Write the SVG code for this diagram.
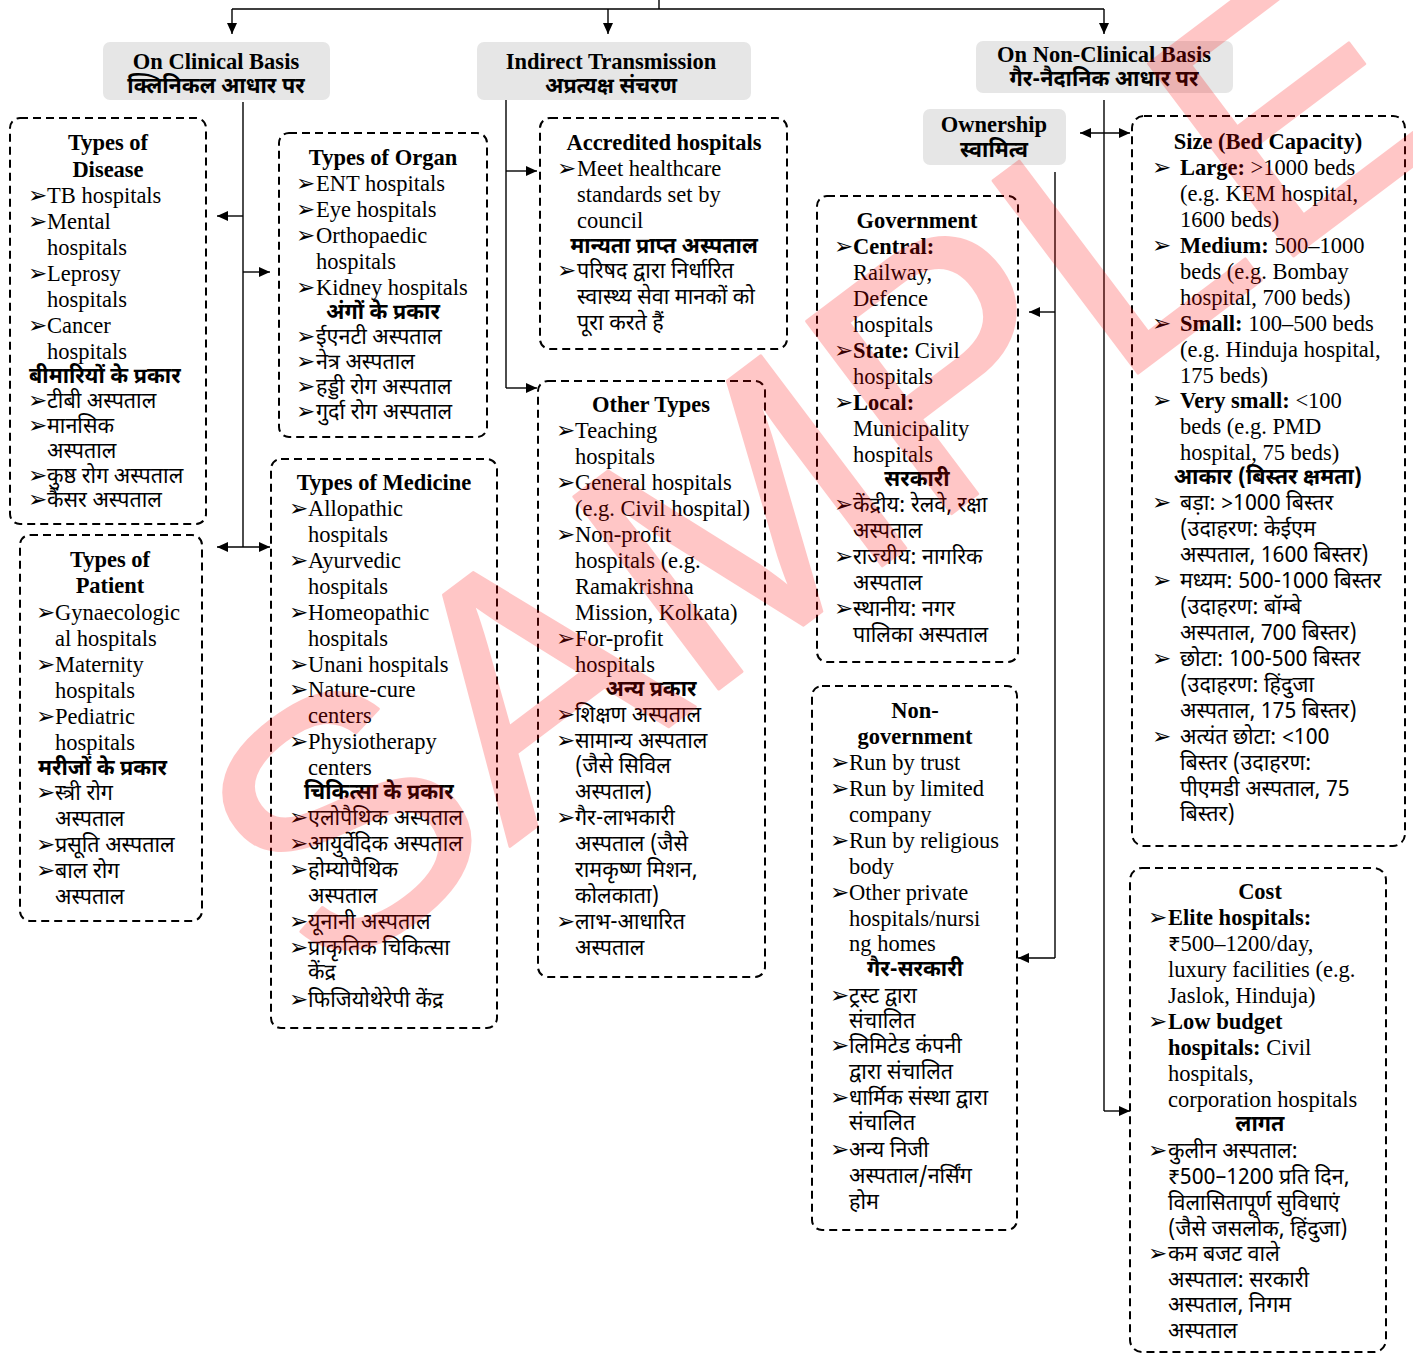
<svg xmlns="http://www.w3.org/2000/svg" width="1413" height="1354" viewBox="0 0 1413 1354">
<defs>
<style>
.en{font-family:"Liberation Serif","Noto Sans Devanagari",serif;font-size:22.5px;fill:#000}
.hi{font-family:"Noto Sans Devanagari","Lohit Devanagari","Liberation Serif",sans-serif;font-size:21.5px;fill:#000}
.b{font-weight:bold}
.c{text-anchor:middle}
.bl{font-family:"DejaVu Sans",sans-serif;font-size:23px;fill:#000}
.hdr{fill:#e6e6e6;stroke:none}
.box{fill:none;stroke:#000;stroke-width:2;stroke-dasharray:8 5}
.ln{fill:none;stroke:#000;stroke-width:1.4}
</style>
<marker id="ah" markerUnits="userSpaceOnUse" markerWidth="11" markerHeight="10" refX="11" refY="5" orient="auto-start-reverse">
<path d="M0,0 L11,5 L0,10 z" fill="#000"/>
</marker>
</defs>
<rect width="1413" height="1354" fill="#fff"/>

<g id="connectors">
<path class="ln" d="M659,0 V9 M232,9 H1104"/>
<path class="ln" d="M232,9 V34" marker-end="url(#ah)"/>
<path class="ln" d="M608,9 V34" marker-end="url(#ah)"/>
<path class="ln" d="M1104,9 V34" marker-end="url(#ah)"/>
<path class="ln" d="M243,102 V547"/>
<path class="ln" d="M243,216 H217" marker-end="url(#ah)"/>
<path class="ln" d="M243,272 H270" marker-end="url(#ah)"/>
<path class="ln" d="M217,547 H270" marker-start="url(#ah)" marker-end="url(#ah)"/>
<path class="ln" d="M506,100 V388"/>
<path class="ln" d="M506,171 H537" marker-end="url(#ah)"/>
<path class="ln" d="M506,388 H537" marker-end="url(#ah)"/>
<path class="ln" d="M1104,100 V1111"/>
<path class="ln" d="M1080,133 H1130" marker-start="url(#ah)" marker-end="url(#ah)"/>
<path class="ln" d="M1104,1111 H1130" marker-end="url(#ah)"/>
<path class="ln" d="M1055,172 V958"/>
<path class="ln" d="M1055,312 H1029" marker-end="url(#ah)"/>
<path class="ln" d="M1055,958 H1018" marker-end="url(#ah)"/>
</g>

<g id="clinical">
<rect class="hdr" x="103" y="42" width="227" height="58" rx="7"/>
<text class="en b c" x="216" y="69">On Clinical Basis</text>
<text class="hi b c" x="216" y="93">क्लिनिकल आधार पर</text>
</g>

<g id="indirect">
<rect class="hdr" x="477" y="42" width="274" height="58" rx="7"/>
<text class="en b c" x="611" y="69">Indirect Transmission</text>
<text class="hi b c" x="611" y="93">अप्रत्यक्ष संचरण</text>
</g>

<g id="nonclinical">
<rect class="hdr" x="976" y="41" width="257" height="52" rx="7"/>
<text class="en b c" x="1104" y="62">On Non-Clinical Basis</text>
<text class="hi b c" x="1104" y="86">गैर-नैदानिक आधार पर</text>
</g>

<g id="ownership">
<rect class="hdr" x="923" y="109" width="143" height="56" rx="7"/>
<text class="en b c" x="994" y="132">Ownership</text>
<text class="hi b c" x="994" y="157">स्वामित्व</text>
</g>

<g id="disease">
<rect class="box" x="10" y="118" width="196" height="406" rx="10"/>
<text class="en b c" x="108" y="150">Types of</text>
<text class="en b c" x="108" y="177">Disease</text>
<text class="bl" x="28" y="203">➢</text><text class="en" x="47" y="203">TB hospitals</text>
<text class="bl" x="28" y="229">➢</text><text class="en" x="47" y="229">Mental</text>
<text class="en" x="47" y="255">hospitals</text>
<text class="bl" x="28" y="281">➢</text><text class="en" x="47" y="281">Leprosy</text>
<text class="en" x="47" y="307">hospitals</text>
<text class="bl" x="28" y="333">➢</text><text class="en" x="47" y="333">Cancer</text>
<text class="en" x="47" y="359">hospitals</text>
<text class="hi b" x="29" y="383">बीमारियों के प्रकार</text>
<text class="bl" x="28" y="408">➢</text><text class="hi" x="47" y="408">टीबी अस्पताल</text>
<text class="bl" x="28" y="433">➢</text><text class="hi" x="47" y="433">मानसिक</text>
<text class="hi" x="47" y="458">अस्पताल</text>
<text class="bl" x="28" y="483">➢</text><text class="hi" x="47" y="483">कुष्ठ रोग अस्पताल</text>
<text class="bl" x="28" y="507">➢</text><text class="hi" x="47" y="507">कैंसर अस्पताल</text>
</g>

<g id="patient">
<rect class="box" x="20" y="535" width="182" height="386" rx="10"/>
<text class="en b c" x="110" y="567">Types of</text>
<text class="en b c" x="110" y="593">Patient</text>
<text class="bl" x="36" y="620">➢</text><text class="en" x="55" y="620">Gynaecologic</text>
<text class="en" x="55" y="646">al hospitals</text>
<text class="bl" x="36" y="672">➢</text><text class="en" x="55" y="672">Maternity</text>
<text class="en" x="55" y="698">hospitals</text>
<text class="bl" x="36" y="724">➢</text><text class="en" x="55" y="724">Pediatric</text>
<text class="en" x="55" y="750">hospitals</text>
<text class="hi b" x="38" y="775">मरीजों के प्रकार</text>
<text class="bl" x="36" y="800">➢</text><text class="hi" x="55" y="800">स्त्री रोग</text>
<text class="hi" x="55" y="826">अस्पताल</text>
<text class="bl" x="36" y="852">➢</text><text class="hi" x="55" y="852">प्रसूति अस्पताल</text>
<text class="bl" x="36" y="878">➢</text><text class="hi" x="55" y="878">बाल रोग</text>
<text class="hi" x="55" y="904">अस्पताल</text>
</g>

<g id="organ">
<rect class="box" x="279" y="133" width="208" height="304" rx="10"/>
<text class="en b c" x="383" y="165">Types of Organ</text>
<text class="bl" x="296" y="191">➢</text><text class="en" x="316" y="191">ENT hospitals</text>
<text class="bl" x="296" y="217">➢</text><text class="en" x="316" y="217">Eye hospitals</text>
<text class="bl" x="296" y="243">➢</text><text class="en" x="316" y="243">Orthopaedic</text>
<text class="en" x="316" y="269">hospitals</text>
<text class="bl" x="296" y="295">➢</text><text class="en" x="316" y="295">Kidney hospitals</text>
<text class="hi b c" x="383" y="319">अंगों के प्रकार</text>
<text class="bl" x="296" y="344">➢</text><text class="hi" x="316" y="344">ईएनटी अस्पताल</text>
<text class="bl" x="296" y="369">➢</text><text class="hi" x="316" y="369">नेत्र अस्पताल</text>
<text class="bl" x="296" y="394">➢</text><text class="hi" x="316" y="394">हड्डी रोग अस्पताल</text>
<text class="bl" x="296" y="419">➢</text><text class="hi" x="316" y="419">गुर्दा रोग अस्पताल</text>
</g>

<g id="medicine">
<rect class="box" x="271" y="459" width="226" height="569" rx="10"/>
<text class="en b c" x="384" y="490">Types of Medicine</text>
<text class="bl" x="289" y="516">➢</text><text class="en" x="308" y="516">Allopathic</text>
<text class="en" x="308" y="542">hospitals</text>
<text class="bl" x="289" y="568">➢</text><text class="en" x="308" y="568">Ayurvedic</text>
<text class="en" x="308" y="594">hospitals</text>
<text class="bl" x="289" y="620">➢</text><text class="en" x="308" y="620">Homeopathic</text>
<text class="en" x="308" y="646">hospitals</text>
<text class="bl" x="289" y="672">➢</text><text class="en" x="308" y="672">Unani hospitals</text>
<text class="bl" x="289" y="697">➢</text><text class="en" x="308" y="697">Nature-cure</text>
<text class="en" x="308" y="723">centers</text>
<text class="bl" x="289" y="749">➢</text><text class="en" x="308" y="749">Physiotherapy</text>
<text class="en" x="308" y="775">centers</text>
<text class="hi b" x="304" y="799">चिकित्सा के प्रकार</text>
<text class="bl" x="289" y="825">➢</text><text class="hi" x="308" y="825">एलोपैथिक अस्पताल</text>
<text class="bl" x="289" y="851">➢</text><text class="hi" x="308" y="851">आयुर्वेदिक अस्पताल</text>
<text class="bl" x="289" y="877">➢</text><text class="hi" x="308" y="877">होम्योपैथिक</text>
<text class="hi" x="308" y="903">अस्पताल</text>
<text class="bl" x="289" y="929">➢</text><text class="hi" x="308" y="929">यूनानी अस्पताल</text>
<text class="bl" x="289" y="955">➢</text><text class="hi" x="308" y="955">प्राकृतिक चिकित्सा</text>
<text class="hi" x="308" y="979">केंद्र</text>
<text class="bl" x="289" y="1007">➢</text><text class="hi" x="308" y="1007">फिजियोथेरेपी केंद्र</text>
</g>

<g id="accredited">
<rect class="box" x="540" y="118" width="247" height="231" rx="10"/>
<text class="en b c" x="664" y="150">Accredited hospitals</text>
<text class="bl" x="557" y="176">➢</text><text class="en" x="577" y="176">Meet healthcare</text>
<text class="en" x="577" y="202">standards set by</text>
<text class="en" x="577" y="228">council</text>
<text class="hi b c" x="664" y="253">मान्यता प्राप्त अस्पताल</text>
<text class="bl" x="557" y="278">➢</text><text class="hi" x="577" y="278">परिषद द्वारा निर्धारित</text>
<text class="hi" x="577" y="304">स्वास्थ्य सेवा मानकों को</text>
<text class="hi" x="577" y="330">पूरा करते हैं</text>
</g>

<g id="othertypes">
<rect class="box" x="538" y="381" width="227" height="596" rx="10"/>
<text class="en b c" x="651" y="412">Other Types</text>
<text class="bl" x="556" y="438">➢</text><text class="en" x="575" y="438">Teaching</text>
<text class="en" x="575" y="464">hospitals</text>
<text class="bl" x="556" y="490">➢</text><text class="en" x="575" y="490">General hospitals</text>
<text class="en" x="575" y="516">(e.g. Civil hospital)</text>
<text class="bl" x="556" y="542">➢</text><text class="en" x="575" y="542">Non-profit</text>
<text class="en" x="575" y="568">hospitals (e.g.</text>
<text class="en" x="575" y="594">Ramakrishna</text>
<text class="en" x="575" y="620">Mission, Kolkata)</text>
<text class="bl" x="556" y="646">➢</text><text class="en" x="575" y="646">For-profit</text>
<text class="en" x="575" y="672">hospitals</text>
<text class="hi b c" x="651" y="696">अन्य प्रकार</text>
<text class="bl" x="556" y="722">➢</text><text class="hi" x="575" y="722">शिक्षण अस्पताल</text>
<text class="bl" x="556" y="748">➢</text><text class="hi" x="575" y="748">सामान्य अस्पताल</text>
<text class="hi" x="575" y="773">(जैसे सिविल</text>
<text class="hi" x="575" y="799">अस्पताल)</text>
<text class="bl" x="556" y="825">➢</text><text class="hi" x="575" y="825">गैर-लाभकारी</text>
<text class="hi" x="575" y="851">अस्पताल (जैसे</text>
<text class="hi" x="575" y="877">रामकृष्ण मिशन,</text>
<text class="hi" x="575" y="903">कोलकाता)</text>
<text class="bl" x="556" y="929">➢</text><text class="hi" x="575" y="929">लाभ-आधारित</text>
<text class="hi" x="575" y="955">अस्पताल</text>
</g>

<g id="government">
<rect class="box" x="817" y="196" width="201" height="466" rx="10"/>
<text class="en b c" x="917" y="228">Government</text>
<text class="bl" x="834" y="254">➢</text><text class="en b" x="853" y="254">Central:</text>
<text class="en" x="853" y="280">Railway,</text>
<text class="en" x="853" y="306">Defence</text>
<text class="en" x="853" y="332">hospitals</text>
<text class="bl" x="834" y="358">➢</text><text class="en" x="853" y="358"><tspan class="b">State:</tspan> Civil</text>
<text class="en" x="853" y="384">hospitals</text>
<text class="bl" x="834" y="410">➢</text><text class="en b" x="853" y="410">Local:</text>
<text class="en" x="853" y="436">Municipality</text>
<text class="en" x="853" y="462">hospitals</text>
<text class="hi b c" x="917" y="486">सरकारी</text>
<text class="bl" x="834" y="512">➢</text><text class="hi" x="853" y="512">केंद्रीय: रेलवे, रक्षा</text>
<text class="hi" x="853" y="538">अस्पताल</text>
<text class="bl" x="834" y="564">➢</text><text class="hi" x="853" y="564">राज्यीय: नागरिक</text>
<text class="hi" x="853" y="590">अस्पताल</text>
<text class="bl" x="834" y="616">➢</text><text class="hi" x="853" y="616">स्थानीय: नगर</text>
<text class="hi" x="853" y="642">पालिका अस्पताल</text>
</g>

<g id="nongovernment">
<rect class="box" x="812" y="686" width="205" height="544" rx="10"/>
<text class="en b c" x="915" y="718">Non-</text>
<text class="en b c" x="915" y="744">government</text>
<text class="bl" x="830" y="770">➢</text><text class="en" x="849" y="770">Run by trust</text>
<text class="bl" x="830" y="796">➢</text><text class="en" x="849" y="796">Run by limited</text>
<text class="en" x="849" y="822">company</text>
<text class="bl" x="830" y="848">➢</text><text class="en" x="849" y="848">Run by religious</text>
<text class="en" x="849" y="874">body</text>
<text class="bl" x="830" y="900">➢</text><text class="en" x="849" y="900">Other private</text>
<text class="en" x="849" y="926">hospitals/nursi</text>
<text class="en" x="849" y="951">ng homes</text>
<text class="hi b c" x="915" y="976">गैर-सरकारी</text>
<text class="bl" x="830" y="1003">➢</text><text class="hi" x="849" y="1003">ट्रस्ट द्वारा</text>
<text class="hi" x="849" y="1028">संचालित</text>
<text class="bl" x="830" y="1053">➢</text><text class="hi" x="849" y="1053">लिमिटेड कंपनी</text>
<text class="hi" x="849" y="1079">द्वारा संचालित</text>
<text class="bl" x="830" y="1105">➢</text><text class="hi" x="849" y="1105">धार्मिक संस्था द्वारा</text>
<text class="hi" x="849" y="1130">संचालित</text>
<text class="bl" x="830" y="1157">➢</text><text class="hi" x="849" y="1157">अन्य निजी</text>
<text class="hi" x="849" y="1183">अस्पताल/नर्सिंग</text>
<text class="hi" x="849" y="1209">होम</text>
</g>

<g id="size">
<rect class="box" x="1132" y="116" width="273" height="730" rx="12"/>
<text class="en b c" x="1268" y="149">Size (Bed Capacity)</text>
<text class="bl" x="1152" y="175">➢</text><text class="en" x="1180" y="175"><tspan class="b">Large:</tspan> &gt;1000 beds</text>
<text class="en" x="1180" y="201">(e.g. KEM hospital,</text>
<text class="en" x="1180" y="227">1600 beds)</text>
<text class="bl" x="1152" y="253">➢</text><text class="en" x="1180" y="253"><tspan class="b">Medium:</tspan> 500–1000</text>
<text class="en" x="1180" y="279">beds (e.g. Bombay</text>
<text class="en" x="1180" y="305">hospital, 700 beds)</text>
<text class="bl" x="1152" y="331">➢</text><text class="en" x="1180" y="331"><tspan class="b">Small:</tspan> 100–500 beds</text>
<text class="en" x="1180" y="357">(e.g. Hinduja hospital,</text>
<text class="en" x="1180" y="383">175 beds)</text>
<text class="bl" x="1152" y="408">➢</text><text class="en" x="1180" y="408"><tspan class="b">Very small:</tspan> &lt;100</text>
<text class="en" x="1180" y="434">beds (e.g. PMD</text>
<text class="en" x="1180" y="460">hospital, 75 beds)</text>
<text class="hi b c" x="1268" y="484">आकार (बिस्तर क्षमता)</text>
<text class="bl" x="1152" y="510">➢</text><text class="hi" x="1180" y="510">बड़ा: &gt;1000 बिस्तर</text>
<text class="hi" x="1180" y="536">(उदाहरण: केईएम</text>
<text class="hi" x="1180" y="562">अस्पताल, 1600 बिस्तर)</text>
<text class="bl" x="1152" y="588">➢</text><text class="hi" x="1180" y="588">मध्यम: 500-1000 बिस्तर</text>
<text class="hi" x="1180" y="614">(उदाहरण: बॉम्बे</text>
<text class="hi" x="1180" y="640">अस्पताल, 700 बिस्तर)</text>
<text class="bl" x="1152" y="666">➢</text><text class="hi" x="1180" y="666">छोटा: 100-500 बिस्तर</text>
<text class="hi" x="1180" y="692">(उदाहरण: हिंदुजा</text>
<text class="hi" x="1180" y="718">अस्पताल, 175 बिस्तर)</text>
<text class="bl" x="1152" y="744">➢</text><text class="hi" x="1180" y="744">अत्यंत छोटा: &lt;100</text>
<text class="hi" x="1180" y="770">बिस्तर (उदाहरण:</text>
<text class="hi" x="1180" y="796">पीएमडी अस्पताल, 75</text>
<text class="hi" x="1180" y="821">बिस्तर)</text>
</g>

<g id="cost">
<rect class="box" x="1130" y="868" width="256" height="484" rx="12"/>
<text class="en b c" x="1260" y="899">Cost</text>
<text class="bl" x="1148" y="925">➢</text><text class="en b" x="1168" y="925">Elite hospitals:</text>
<text class="en" x="1168" y="951">₹500–1200/day,</text>
<text class="en" x="1168" y="977">luxury facilities (e.g.</text>
<text class="en" x="1168" y="1003">Jaslok, Hinduja)</text>
<text class="bl" x="1148" y="1029">➢</text><text class="en b" x="1168" y="1029">Low budget</text>
<text class="en" x="1168" y="1055"><tspan class="b">hospitals:</tspan> Civil</text>
<text class="en" x="1168" y="1081">hospitals,</text>
<text class="en" x="1168" y="1107">corporation hospitals</text>
<text class="hi b c" x="1260" y="1131">लागत</text>
<text class="bl" x="1148" y="1158">➢</text><text class="hi" x="1168" y="1158">कुलीन अस्पताल:</text>
<text class="hi" x="1168" y="1184">₹500–1200 प्रति दिन,</text>
<text class="hi" x="1168" y="1210">विलासितापूर्ण सुविधाएं</text>
<text class="hi" x="1168" y="1236">(जैसे जसलोक, हिंदुजा)</text>
<text class="bl" x="1148" y="1261">➢</text><text class="hi" x="1168" y="1261">कम बजट वाले</text>
<text class="hi" x="1168" y="1287">अस्पताल: सरकारी</text>
<text class="hi" x="1168" y="1312">अस्पताल, निगम</text>
<text class="hi" x="1168" y="1338">अस्पताल</text>
</g>

<g id="watermark" opacity="0.22">
<text x="890" y="560" transform="rotate(-37 890 560)" text-anchor="middle" font-family="Liberation Sans, sans-serif" font-size="350" fill="#ff0000" stroke="#ff0000" stroke-width="3" stroke-linejoin="round">SAMPLE</text>
</g>
</svg>
